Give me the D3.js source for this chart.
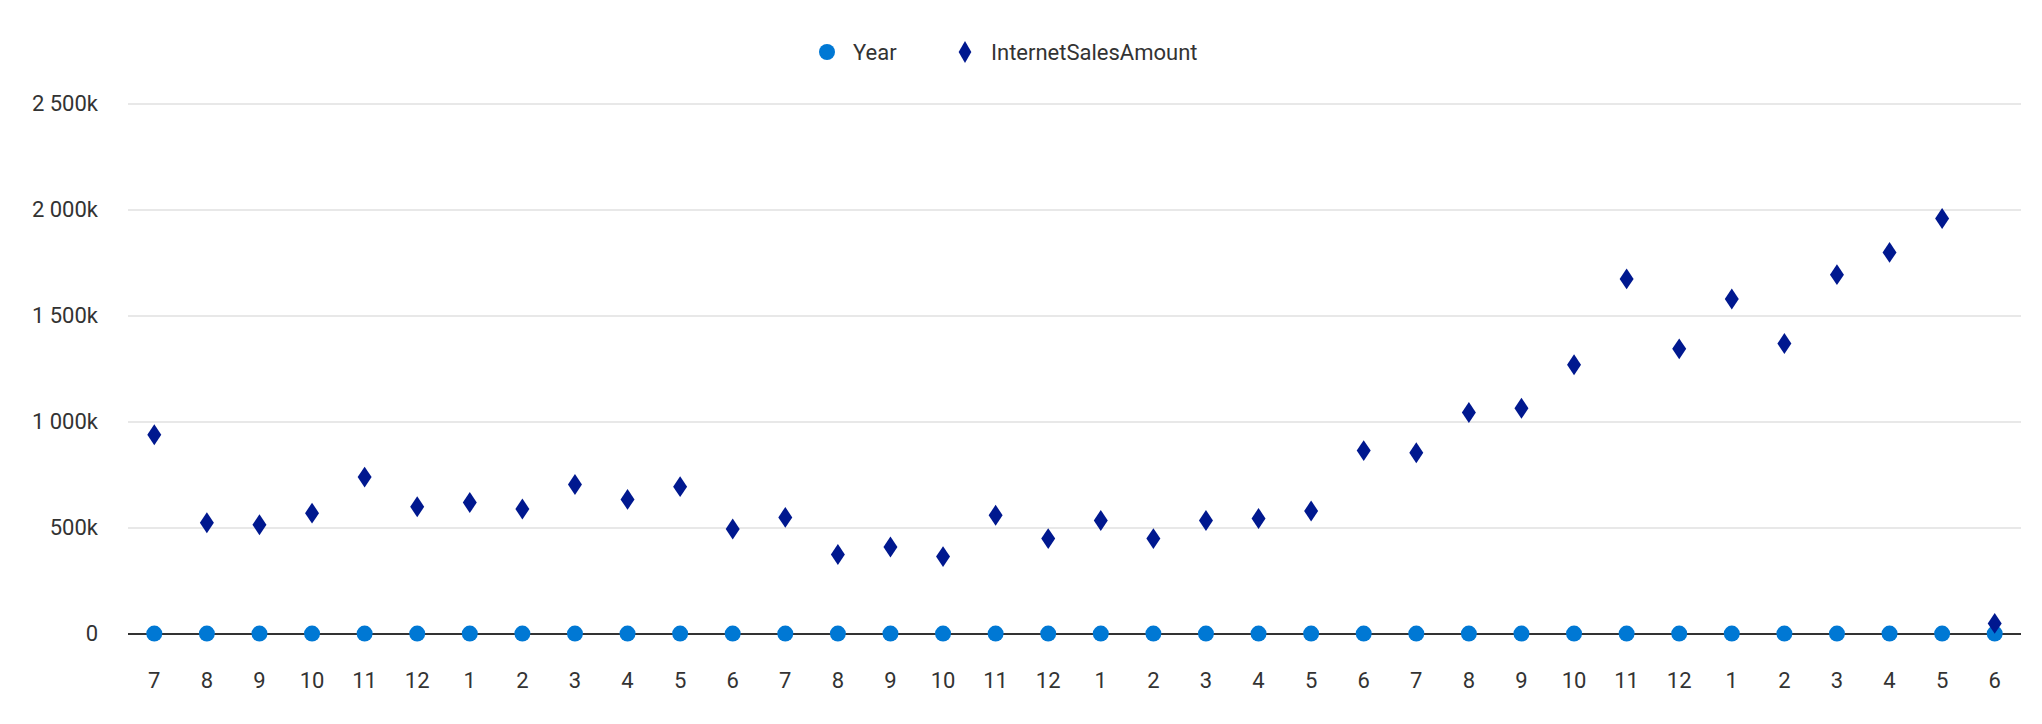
<!DOCTYPE html>
<html>
<head>
<script src="https://d3js.org/d3.v7.min.js"></script>
<style>body{margin:0;background:#fff;font-family:"Segoe UI",Roboto,"Open Sans",sans-serif;}</style>
</head>
<body>
<svg id="chart" width="2042" height="724"></svg>
<script>
var months = [7,8,9,10,11,12,1,2,3,4,5,6,7,8,9,10,11,12,1,2,3,4,5,6,7,8,9,10,11,12,1,2,3,4,5,6];
var years = [2005,2005,2005,2005,2005,2005,2006,2006,2006,2006,2006,2006,2006,2006,2006,2006,2006,2006,
             2007,2007,2007,2007,2007,2007,2007,2007,2007,2007,2007,2007,2008,2008,2008,2008,2008,2008];
var sales = [940,525,515,570,740,600,620,590,705,635,695,495,550,375,410,365,560,450,
             535,450,535,545,580,865,855,1045,1065,1270,1675,1345,1580,1370,1695,1800,1960,50]
             .map(function(v){ return v*1000; });
var yTicks = [0,500000,1000000,1500000,2000000,2500000];

var svg = d3.select("#chart");
var x = d3.scaleBand().domain(d3.range(months.length)).range([128,2021]);
var y = d3.scaleLinear().domain([0,2500000]).range([634,104]);
var fmt = function(d){ return d===0 ? "0" : d3.format(",")(d/1000).replace(",", " ") + "k"; };

svg.append("g").selectAll("line").data(yTicks.slice(1)).enter().append("line")
  .attr("x1",128).attr("x2",2021).attr("y1",function(d){return y(d);}).attr("y2",function(d){return y(d);})
  .attr("stroke","#e1e1e1").attr("stroke-width",1.3);
svg.append("g").selectAll("text").data(yTicks).enter().append("text")
  .attr("x",98).attr("y",function(d){return y(d)+7;}).attr("text-anchor","end")
  .attr("font-size",22).attr("fill","#333").text(fmt);

svg.append("line").attr("x1",128).attr("x2",2021).attr("y1",y(0)).attr("y2",y(0))
  .attr("stroke","#333").attr("stroke-width",2);

svg.append("g").selectAll("text").data(months).enter().append("text")
  .attr("x",function(d,i){return x(i)+x.bandwidth()/2;}).attr("y",688).attr("text-anchor","middle")
  .attr("font-size",22).attr("fill","#333").text(function(d){return d;});

svg.append("g").selectAll("circle").data(years).enter().append("circle")
  .attr("cx",function(d,i){return x(i)+x.bandwidth()/2;}).attr("cy",function(d){return y(d);})
  .attr("r",8).attr("fill","#0078d4");

var diamond = d3.symbol().type(d3.symbolDiamond).size(140);
svg.append("g").selectAll("path").data(sales).enter().append("path")
  .attr("d",diamond)
  .attr("transform",function(d,i){return "translate("+(x(i)+x.bandwidth()/2)+","+y(d)+") scale(1.1,0.95)";})
  .attr("fill","#00188f");

var lg = svg.append("g");
lg.append("circle").attr("cx",827).attr("cy",52).attr("r",8).attr("fill","#0078d4");
lg.append("text").attr("x",853).attr("y",60).attr("font-size",22).attr("fill","#333").text("Year");
lg.append("path").attr("d",diamond).attr("transform","translate(965,52)").attr("fill","#00188f");
lg.append("text").attr("x",991).attr("y",60).attr("font-size",22).attr("fill","#333").text("InternetSalesAmount");
</script>
</body>
</html>
